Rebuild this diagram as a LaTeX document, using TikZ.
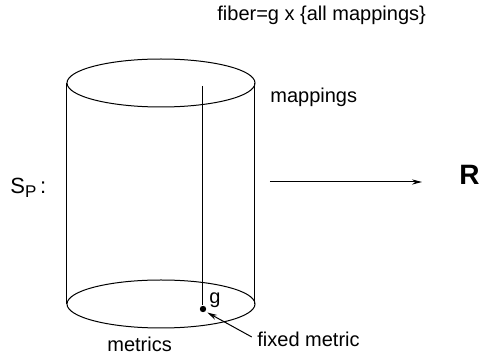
\documentclass[tikz,border=0pt]{standalone}
\usepackage{fontspec}
\setmainfont{Liberation Sans}
\usetikzlibrary{arrows.meta,positioning}

\begin{document}
\begin{tikzpicture}[
      x=0.5pt, y=-0.5pt,
      lbl/.style={inner sep=0pt, anchor=base west, font=\fontsize{10}{12}\selectfont},
      rim/.style={line width=0.5pt},
      flow/.style={-{Stealth[length=5pt,width=2.6pt]}, line width=0.5pt},
      dotnode/.style={circle, fill, inner sep=0pt, minimum size=3.2pt}
    ]
      \useasboundingbox (0,0) rectangle (479,358);
      % cylinder
      \coordinate (top) at (161,83);
      \coordinate (bot) at (161,304);
      \draw[rim] (top) ellipse [x radius=47pt, y radius=12pt];
      \draw[rim] (bot) ellipse [x radius=47pt, y radius=12pt];
      \draw[rim] (67,83) -- (67,304);
      \draw[rim] (255,83) -- (255,304);
      % fiber over g
      \node[dotnode] (gpt) at (203,309) {};
      \coordinate (fibtop) at (203,86);
      \draw[rim] (fibtop) -- (gpt);
      \node[lbl] (glabel) at (209,304) {g};
      % labels
      \node[lbl] (fiber) at (217,21) {fiber=g x \{all mappings\}};
      \node[lbl] (mappings) at (270,103) {mappings};
      \node[lbl] (metrics) at (107,352) {metrics};
      \node[lbl] (fixed) at (257,347) {fixed metric};
      \node[inner sep=0pt, anchor=base west] (space) at (10,194)
        {\fontsize{11}{13}\selectfont S\raisebox{-2pt}{\fontsize{8.5}{10}\selectfont P}\,:};
      \node[inner sep=0pt, anchor=base west] (reals) at (459,185)
        {\fontsize{14}{16}\selectfont\bfseries R};
      % arrows
      \coordinate (src) at (270,182);
      \draw[flow, shorten >=18.5pt] (src) -- (src -| reals.west);
      \draw[flow, shorten <=3pt, shorten >=1pt] (fixed.west) -- (gpt.south east);
    \end{tikzpicture}
\end{document}
